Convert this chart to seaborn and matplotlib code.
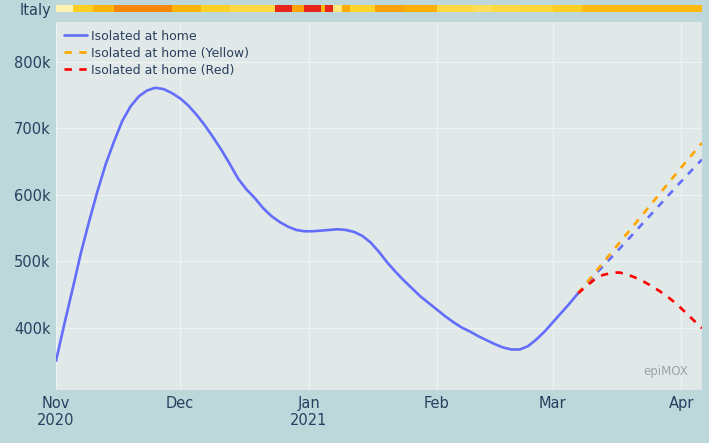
import matplotlib
matplotlib.use("Agg")
import numpy as np
import pandas as pd
import matplotlib.pyplot as plt
import matplotlib.dates as mdates
from matplotlib.lines import Line2D
from matplotlib.colors import LinearSegmentedColormap
import seaborn as sns

START = pd.Timestamp("2020-11-01")

# observed series (days since 1 Nov 2020, thousands of people)
obs_days = list(range(0, 127, 2))
obs_vals = [350, 405, 458, 512, 560, 605, 646, 680, 711, 733,
            748, 757, 761, 759, 753, 745, 734, 720, 704, 686,
            667, 646, 624, 608, 595, 580, 568, 559, 552, 547,
            545, 545, 546, 547, 548, 547, 544, 538, 528, 514,
            498, 484, 471, 459, 447, 437, 427, 417, 408, 400,
            394, 387, 381, 375, 370, 367, 367, 372, 382, 394,
            408, 422, 436, 451]

# forecasts
fc_days = [126, 131, 136, 141, 146, 151, 156]
fc_base = [451, 485, 518, 552, 586, 620, 653]
fc_yellow = [451, 489, 527, 565, 603, 641, 678]
red_days = list(range(126, 157, 2))
red_vals = [451, 462, 472, 479, 482, 483, 480, 475, 469, 462,
            454, 445, 435, 423, 411, 399]

# regional colour strip (0 = white/yellow ... 1 = red)
zone_edges = ["2020-11-01", "2020-11-05", "2020-11-10", "2020-11-15", "2020-11-29",
              "2020-12-06", "2020-12-13", "2020-12-24", "2020-12-28", "2020-12-31",
              "2021-01-04", "2021-01-05", "2021-01-07", "2021-01-09", "2021-01-11",
              "2021-01-17", "2021-01-24", "2021-02-01", "2021-02-10", "2021-02-14",
              "2021-02-21", "2021-03-01", "2021-03-08", "2021-04-06"]
zone_levels = [0.0, 0.3, 0.5, 0.75, 0.5, 0.27, 0.2, 1.0, 0.6, 1.0, 0.5, 1.0,
               0.1, 0.55, 0.25, 0.6, 0.52, 0.2, 0.17, 0.2, 0.23, 0.3, 0.45]

y_ticks = [400, 500, 600, 700, 800]
y_labels = ["400k", "500k", "600k", "700k", "800k"]
tick_dates = ["2020-11-01", "2020-12-01", "2021-01-01", "2021-02-01", "2021-03-01", "2021-04-01"]
tick_labels = ["Nov\n2020", "Dec", "Jan\n2021", "Feb", "Mar", "Apr"]

OUTER = "#bdd7db"
INNER = "#e1e8e8"
TEXT = "#2a3f5f"
BLUE = "#636efa"
ORANGE = "#ffa500"
RED = "#ff0000"

sns.set_theme(style="white")
plt.rcParams["font.family"] = ["DejaVu Sans"]

obs = pd.DataFrame({"date": START + pd.to_timedelta(obs_days, unit="D"), "value": obs_vals})
fc = pd.DataFrame({"date": START + pd.to_timedelta(fc_days, unit="D"),
                   "base": fc_base, "yellow": fc_yellow})
red = pd.DataFrame({"date": START + pd.to_timedelta(red_days, unit="D"), "value": red_vals})

fig = plt.figure(figsize=(7.09, 4.43), dpi=100, facecolor=OUTER)
ax = fig.add_axes([0.079, 0.1196, 0.911, 0.8307])
ax.set_facecolor(INNER)

dash = (0, (2.8, 2.8))
sns.lineplot(data=fc, x="date", y="base", ax=ax, color=BLUE, lw=1.9, linestyle=dash)
sns.lineplot(data=fc, x="date", y="yellow", ax=ax, color=ORANGE, lw=1.9, linestyle=dash)
sns.lineplot(data=red, x="date", y="value", ax=ax, color=RED, lw=1.9, linestyle=dash)
sns.lineplot(data=obs, x="date", y="value", ax=ax, color=BLUE, lw=1.9)

x0 = START
x1 = pd.Timestamp(zone_edges[-1])
ax.set_xlim(x0, x1)
ax.set_ylim(306, 860)
ax.set_yticks(y_ticks)
ax.set_yticklabels(y_labels)
ax.set_xticks(pd.to_datetime(tick_dates))
ax.set_xticklabels(tick_labels)
ax.set_xlabel("")
ax.set_ylabel("")
ax.tick_params(length=0, labelsize=10.5, labelcolor=TEXT, pad=4)
ax.grid(True, color="#eff3f3", lw=0.9)
for s in ax.spines.values():
    s.set_visible(False)

handles = [Line2D([], [], color=BLUE, lw=1.9),
           Line2D([], [], color=ORANGE, lw=1.9, linestyle=dash),
           Line2D([], [], color=RED, lw=1.9, linestyle=dash)]
ax.legend(handles, ["Isolated at home", "Isolated at home (Yellow)", "Isolated at home (Red)"],
          loc="upper left", frameon=False, fontsize=9, labelcolor=TEXT,
          handlelength=1.9, handletextpad=0.3, labelspacing=0.32,
          borderaxespad=0.2, bbox_to_anchor=(0.0, 1.0))

ax.text(0.978, 0.049, "epiMOX", transform=ax.transAxes, ha="right", va="center",
        fontsize=8.5, color="#9aa3a5")

# zone strip above the plot
strip = fig.add_axes([0.079, 0.9729, 0.911, 0.0158])
cmap = LinearSegmentedColormap.from_list(
    "zones", [(0.0, "#fff2b0"), (0.25, "#ffd42a"), (0.5, "#fdb40a"),
              (0.75, "#f5890a"), (1.0, "#e8251a")])
edges = mdates.date2num(pd.to_datetime(zone_edges))
strip.pcolormesh(edges, [0, 1], np.array([zone_levels]), cmap=cmap, vmin=0, vmax=1)
strip.set_xlim(edges[0], edges[-1])
strip.axis("off")

fig.text(0.028, 0.977, "Italy", fontsize=10.5, color=TEXT, ha="left", va="center")

fig.savefig("out.png", dpi=100, facecolor=OUTER)
